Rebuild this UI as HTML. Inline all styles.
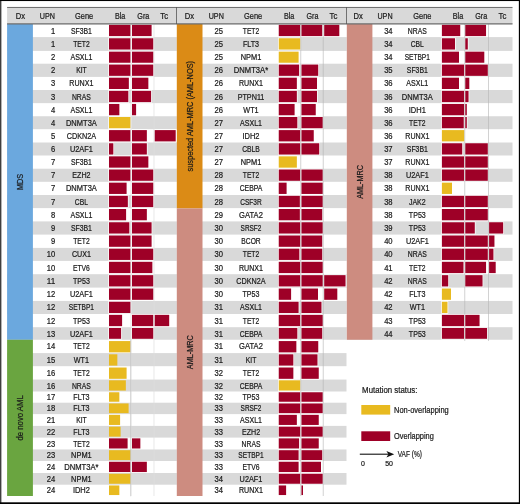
<!DOCTYPE html>
<html><head><meta charset="utf-8"><title>Mutation status figure</title>
<style>html,body{margin:0;padding:0;background:#fff}svg{display:block}</style></head>
<body><svg width="520" height="504" viewBox="0 0 520 504" font-family="'Liberation Sans', sans-serif" font-size="8.6">
<rect x="0" y="0" width="520" height="504" fill="#fff"/>
<rect x="7.10" y="7.50" width="505.40" height="16.60" fill="#d9d9d9"/>
<rect x="7.10" y="37.10" width="169.70" height="13.80" fill="#d9d9d9"/>
<rect x="7.10" y="63.70" width="169.70" height="13.20" fill="#d9d9d9"/>
<rect x="7.10" y="90.00" width="169.70" height="13.15" fill="#d9d9d9"/>
<rect x="7.10" y="116.25" width="169.70" height="12.95" fill="#d9d9d9"/>
<rect x="7.10" y="142.50" width="169.70" height="13.00" fill="#d9d9d9"/>
<rect x="7.10" y="168.70" width="169.70" height="13.10" fill="#d9d9d9"/>
<rect x="7.10" y="195.00" width="169.70" height="13.10" fill="#d9d9d9"/>
<rect x="7.10" y="221.40" width="169.70" height="13.20" fill="#d9d9d9"/>
<rect x="7.10" y="247.90" width="169.70" height="13.00" fill="#d9d9d9"/>
<rect x="7.10" y="274.20" width="169.70" height="13.40" fill="#d9d9d9"/>
<rect x="7.10" y="300.95" width="169.70" height="13.05" fill="#d9d9d9"/>
<rect x="7.10" y="327.20" width="169.70" height="12.55" fill="#d9d9d9"/>
<rect x="7.10" y="353.10" width="169.70" height="13.10" fill="#d9d9d9"/>
<rect x="7.10" y="379.55" width="169.70" height="11.95" fill="#d9d9d9"/>
<rect x="7.10" y="402.70" width="169.70" height="11.40" fill="#d9d9d9"/>
<rect x="7.10" y="425.90" width="169.70" height="11.70" fill="#d9d9d9"/>
<rect x="7.10" y="449.45" width="169.70" height="11.55" fill="#d9d9d9"/>
<rect x="7.10" y="473.00" width="169.70" height="11.70" fill="#d9d9d9"/>
<rect x="176.80" y="37.10" width="169.70" height="13.80" fill="#d9d9d9"/>
<rect x="176.80" y="63.70" width="169.70" height="13.20" fill="#d9d9d9"/>
<rect x="176.80" y="90.00" width="169.70" height="13.15" fill="#d9d9d9"/>
<rect x="176.80" y="116.25" width="169.70" height="12.95" fill="#d9d9d9"/>
<rect x="176.80" y="142.50" width="169.70" height="13.00" fill="#d9d9d9"/>
<rect x="176.80" y="168.70" width="169.70" height="13.10" fill="#d9d9d9"/>
<rect x="176.80" y="195.00" width="169.70" height="13.10" fill="#d9d9d9"/>
<rect x="176.80" y="221.40" width="169.70" height="13.20" fill="#d9d9d9"/>
<rect x="176.80" y="247.90" width="169.70" height="13.00" fill="#d9d9d9"/>
<rect x="176.80" y="274.20" width="169.70" height="13.40" fill="#d9d9d9"/>
<rect x="176.80" y="300.95" width="169.70" height="13.05" fill="#d9d9d9"/>
<rect x="176.80" y="327.20" width="169.70" height="12.55" fill="#d9d9d9"/>
<rect x="176.80" y="353.10" width="169.70" height="13.10" fill="#d9d9d9"/>
<rect x="176.80" y="379.55" width="169.70" height="11.95" fill="#d9d9d9"/>
<rect x="176.80" y="402.70" width="169.70" height="11.40" fill="#d9d9d9"/>
<rect x="176.80" y="425.90" width="169.70" height="11.70" fill="#d9d9d9"/>
<rect x="176.80" y="449.45" width="169.70" height="11.55" fill="#d9d9d9"/>
<rect x="176.80" y="473.00" width="169.70" height="11.70" fill="#d9d9d9"/>
<rect x="346.50" y="37.10" width="166.00" height="13.80" fill="#d9d9d9"/>
<rect x="346.50" y="63.70" width="166.00" height="13.20" fill="#d9d9d9"/>
<rect x="346.50" y="90.00" width="166.00" height="13.15" fill="#d9d9d9"/>
<rect x="346.50" y="116.25" width="166.00" height="12.95" fill="#d9d9d9"/>
<rect x="346.50" y="142.50" width="166.00" height="13.00" fill="#d9d9d9"/>
<rect x="346.50" y="168.70" width="166.00" height="13.10" fill="#d9d9d9"/>
<rect x="346.50" y="195.00" width="166.00" height="13.10" fill="#d9d9d9"/>
<rect x="346.50" y="221.40" width="166.00" height="13.20" fill="#d9d9d9"/>
<rect x="346.50" y="247.90" width="166.00" height="13.00" fill="#d9d9d9"/>
<rect x="346.50" y="274.20" width="166.00" height="13.40" fill="#d9d9d9"/>
<rect x="346.50" y="300.95" width="166.00" height="13.05" fill="#d9d9d9"/>
<rect x="346.50" y="327.20" width="166.00" height="12.55" fill="#d9d9d9"/>
<rect x="7.10" y="24.00" width="25.80" height="315.75" fill="#6ba8de"/>
<rect x="7.10" y="339.75" width="25.80" height="156.25" fill="#6aa540"/>
<rect x="176.80" y="24.00" width="25.70" height="184.45" fill="#db8b16"/>
<rect x="176.80" y="208.45" width="25.70" height="287.55" fill="#cd8c80"/>
<rect x="346.80" y="24.00" width="25.60" height="315.75" fill="#cd8c80"/>
<rect x="109.00" y="24.80" width="21.60" height="11.30" fill="#9e0027" stroke="#fff" stroke-width="1.4" paint-order="stroke"/>
<rect x="132.00" y="24.80" width="19.60" height="11.30" fill="#9e0027" stroke="#fff" stroke-width="1.4" paint-order="stroke"/>
<rect x="109.00" y="38.25" width="21.60" height="11.30" fill="#9e0027" stroke="#fff" stroke-width="1.4" paint-order="stroke"/>
<rect x="132.00" y="38.25" width="21.35" height="11.30" fill="#9e0027" stroke="#fff" stroke-width="1.4" paint-order="stroke"/>
<rect x="109.00" y="51.65" width="21.60" height="11.10" fill="#9e0027" stroke="#fff" stroke-width="1.4" paint-order="stroke"/>
<rect x="132.00" y="51.65" width="21.35" height="11.10" fill="#9e0027" stroke="#fff" stroke-width="1.4" paint-order="stroke"/>
<rect x="109.00" y="64.55" width="21.60" height="11.30" fill="#9e0027" stroke="#fff" stroke-width="1.4" paint-order="stroke"/>
<rect x="132.00" y="64.55" width="21.35" height="11.30" fill="#9e0027" stroke="#fff" stroke-width="1.4" paint-order="stroke"/>
<rect x="109.00" y="77.70" width="19.85" height="11.30" fill="#9e0027" stroke="#fff" stroke-width="1.4" paint-order="stroke"/>
<rect x="132.00" y="77.70" width="16.35" height="11.30" fill="#9e0027" stroke="#fff" stroke-width="1.4" paint-order="stroke"/>
<rect x="109.00" y="90.83" width="19.35" height="11.30" fill="#9e0027" stroke="#fff" stroke-width="1.4" paint-order="stroke"/>
<rect x="132.00" y="90.83" width="19.10" height="11.30" fill="#9e0027" stroke="#fff" stroke-width="1.4" paint-order="stroke"/>
<rect x="109.00" y="103.95" width="10.35" height="11.30" fill="#9e0027" stroke="#fff" stroke-width="1.4" paint-order="stroke"/>
<rect x="132.00" y="103.95" width="4.10" height="11.30" fill="#9e0027" stroke="#fff" stroke-width="1.4" paint-order="stroke"/>
<rect x="109.00" y="117.00" width="21.60" height="11.25" fill="#e8ba20" stroke="#fff" stroke-width="1.4" paint-order="stroke"/>
<rect x="109.00" y="130.10" width="21.60" height="11.30" fill="#9e0027" stroke="#fff" stroke-width="1.4" paint-order="stroke"/>
<rect x="132.00" y="130.10" width="14.85" height="11.30" fill="#9e0027" stroke="#fff" stroke-width="1.4" paint-order="stroke"/>
<rect x="154.60" y="130.10" width="21.10" height="11.30" fill="#9e0027" stroke="#fff" stroke-width="1.4" paint-order="stroke"/>
<rect x="109.00" y="143.25" width="4.35" height="11.30" fill="#9e0027" stroke="#fff" stroke-width="1.4" paint-order="stroke"/>
<rect x="132.00" y="143.25" width="14.85" height="11.30" fill="#9e0027" stroke="#fff" stroke-width="1.4" paint-order="stroke"/>
<rect x="109.00" y="156.35" width="21.60" height="11.30" fill="#9e0027" stroke="#fff" stroke-width="1.4" paint-order="stroke"/>
<rect x="132.00" y="156.35" width="16.35" height="11.30" fill="#9e0027" stroke="#fff" stroke-width="1.4" paint-order="stroke"/>
<rect x="109.00" y="169.50" width="21.60" height="11.30" fill="#9e0027" stroke="#fff" stroke-width="1.4" paint-order="stroke"/>
<rect x="132.00" y="169.50" width="21.35" height="11.30" fill="#9e0027" stroke="#fff" stroke-width="1.4" paint-order="stroke"/>
<rect x="109.00" y="182.65" width="17.60" height="11.30" fill="#9e0027" stroke="#fff" stroke-width="1.4" paint-order="stroke"/>
<rect x="132.00" y="182.65" width="21.35" height="11.30" fill="#9e0027" stroke="#fff" stroke-width="1.4" paint-order="stroke"/>
<rect x="109.00" y="195.80" width="18.85" height="11.30" fill="#9e0027" stroke="#fff" stroke-width="1.4" paint-order="stroke"/>
<rect x="132.00" y="195.80" width="21.35" height="11.30" fill="#9e0027" stroke="#fff" stroke-width="1.4" paint-order="stroke"/>
<rect x="109.00" y="209.00" width="17.10" height="11.30" fill="#9e0027" stroke="#fff" stroke-width="1.4" paint-order="stroke"/>
<rect x="132.00" y="209.00" width="14.85" height="11.30" fill="#9e0027" stroke="#fff" stroke-width="1.4" paint-order="stroke"/>
<rect x="109.00" y="222.25" width="20.35" height="11.30" fill="#9e0027" stroke="#fff" stroke-width="1.4" paint-order="stroke"/>
<rect x="132.00" y="222.25" width="19.60" height="11.30" fill="#9e0027" stroke="#fff" stroke-width="1.4" paint-order="stroke"/>
<rect x="109.00" y="235.50" width="21.60" height="11.30" fill="#9e0027" stroke="#fff" stroke-width="1.4" paint-order="stroke"/>
<rect x="132.00" y="235.50" width="19.60" height="11.30" fill="#9e0027" stroke="#fff" stroke-width="1.4" paint-order="stroke"/>
<rect x="109.00" y="248.65" width="21.60" height="11.30" fill="#9e0027" stroke="#fff" stroke-width="1.4" paint-order="stroke"/>
<rect x="132.00" y="248.65" width="21.35" height="11.30" fill="#9e0027" stroke="#fff" stroke-width="1.4" paint-order="stroke"/>
<rect x="109.00" y="261.80" width="21.60" height="11.30" fill="#9e0027" stroke="#fff" stroke-width="1.4" paint-order="stroke"/>
<rect x="132.00" y="261.80" width="20.35" height="11.30" fill="#9e0027" stroke="#fff" stroke-width="1.4" paint-order="stroke"/>
<rect x="109.00" y="275.15" width="21.60" height="11.30" fill="#9e0027" stroke="#fff" stroke-width="1.4" paint-order="stroke"/>
<rect x="132.00" y="275.15" width="21.35" height="11.30" fill="#9e0027" stroke="#fff" stroke-width="1.4" paint-order="stroke"/>
<rect x="109.00" y="288.52" width="21.60" height="11.30" fill="#9e0027" stroke="#fff" stroke-width="1.4" paint-order="stroke"/>
<rect x="132.00" y="288.52" width="21.35" height="11.30" fill="#9e0027" stroke="#fff" stroke-width="1.4" paint-order="stroke"/>
<rect x="109.00" y="301.72" width="21.60" height="11.30" fill="#9e0027" stroke="#fff" stroke-width="1.4" paint-order="stroke"/>
<rect x="109.00" y="314.85" width="13.10" height="11.30" fill="#9e0027" stroke="#fff" stroke-width="1.4" paint-order="stroke"/>
<rect x="132.00" y="314.85" width="21.35" height="11.30" fill="#9e0027" stroke="#fff" stroke-width="1.4" paint-order="stroke"/>
<rect x="154.60" y="314.85" width="14.60" height="11.30" fill="#9e0027" stroke="#fff" stroke-width="1.4" paint-order="stroke"/>
<rect x="109.00" y="327.95" width="12.10" height="10.85" fill="#9e0027" stroke="#fff" stroke-width="1.4" paint-order="stroke"/>
<rect x="132.00" y="327.95" width="21.35" height="10.85" fill="#9e0027" stroke="#fff" stroke-width="1.4" paint-order="stroke"/>
<rect x="109.00" y="341.07" width="21.65" height="11.30" fill="#e8ba20"/>
<rect x="109.00" y="354.30" width="8.35" height="11.30" fill="#e8ba20"/>
<rect x="109.00" y="367.52" width="17.60" height="11.30" fill="#e8ba20"/>
<rect x="109.00" y="380.30" width="16.85" height="10.25" fill="#e8ba20"/>
<rect x="109.00" y="392.25" width="10.35" height="9.50" fill="#e8ba20"/>
<rect x="109.00" y="403.45" width="19.60" height="9.70" fill="#e8ba20"/>
<rect x="109.00" y="414.85" width="11.10" height="10.10" fill="#e8ba20"/>
<rect x="109.00" y="426.65" width="11.60" height="10.00" fill="#e8ba20"/>
<rect x="109.00" y="438.35" width="18.60" height="10.15" fill="#9e0027"/>
<rect x="132.00" y="438.35" width="8.35" height="10.15" fill="#9e0027"/>
<rect x="109.00" y="450.20" width="21.85" height="9.85" fill="#e8ba20"/>
<rect x="109.00" y="461.75" width="21.60" height="10.30" fill="#9e0027"/>
<rect x="132.00" y="461.75" width="14.85" height="10.30" fill="#9e0027"/>
<rect x="109.00" y="473.75" width="21.85" height="10.00" fill="#e8ba20"/>
<rect x="109.00" y="485.45" width="10.35" height="9.60" fill="#e8ba20"/>
<rect x="278.75" y="24.80" width="21.60" height="11.30" fill="#9e0027" stroke="#fff" stroke-width="1.4" paint-order="stroke"/>
<rect x="301.40" y="24.80" width="20.85" height="11.30" fill="#9e0027" stroke="#fff" stroke-width="1.4" paint-order="stroke"/>
<rect x="324.20" y="24.80" width="15.10" height="11.30" fill="#9e0027" stroke="#fff" stroke-width="1.4" paint-order="stroke"/>
<rect x="278.75" y="38.25" width="21.60" height="11.30" fill="#e8ba20" stroke="#fff" stroke-width="1.4" paint-order="stroke"/>
<rect x="278.75" y="51.65" width="19.85" height="11.10" fill="#e8ba20" stroke="#fff" stroke-width="1.4" paint-order="stroke"/>
<rect x="278.75" y="64.55" width="20.35" height="11.30" fill="#9e0027" stroke="#fff" stroke-width="1.4" paint-order="stroke"/>
<rect x="301.40" y="64.55" width="16.85" height="11.30" fill="#9e0027" stroke="#fff" stroke-width="1.4" paint-order="stroke"/>
<rect x="278.75" y="77.70" width="18.10" height="11.30" fill="#9e0027" stroke="#fff" stroke-width="1.4" paint-order="stroke"/>
<rect x="301.40" y="77.70" width="15.60" height="11.30" fill="#9e0027" stroke="#fff" stroke-width="1.4" paint-order="stroke"/>
<rect x="278.75" y="90.83" width="18.10" height="11.30" fill="#9e0027" stroke="#fff" stroke-width="1.4" paint-order="stroke"/>
<rect x="301.40" y="90.83" width="15.60" height="11.30" fill="#9e0027" stroke="#fff" stroke-width="1.4" paint-order="stroke"/>
<rect x="278.75" y="103.95" width="15.85" height="11.30" fill="#9e0027" stroke="#fff" stroke-width="1.4" paint-order="stroke"/>
<rect x="301.40" y="103.95" width="14.35" height="11.30" fill="#9e0027" stroke="#fff" stroke-width="1.4" paint-order="stroke"/>
<rect x="278.75" y="117.00" width="18.60" height="11.25" fill="#9e0027" stroke="#fff" stroke-width="1.4" paint-order="stroke"/>
<rect x="301.40" y="117.00" width="21.35" height="11.25" fill="#9e0027" stroke="#fff" stroke-width="1.4" paint-order="stroke"/>
<rect x="278.75" y="130.10" width="21.60" height="11.30" fill="#9e0027" stroke="#fff" stroke-width="1.4" paint-order="stroke"/>
<rect x="301.40" y="130.10" width="12.35" height="11.30" fill="#9e0027" stroke="#fff" stroke-width="1.4" paint-order="stroke"/>
<rect x="278.75" y="143.25" width="21.60" height="11.30" fill="#9e0027" stroke="#fff" stroke-width="1.4" paint-order="stroke"/>
<rect x="301.40" y="143.25" width="17.85" height="11.30" fill="#9e0027" stroke="#fff" stroke-width="1.4" paint-order="stroke"/>
<rect x="278.75" y="156.35" width="18.10" height="11.30" fill="#e8ba20" stroke="#fff" stroke-width="1.4" paint-order="stroke"/>
<rect x="278.75" y="169.50" width="21.60" height="11.30" fill="#9e0027" stroke="#fff" stroke-width="1.4" paint-order="stroke"/>
<rect x="301.40" y="169.50" width="21.35" height="11.30" fill="#9e0027" stroke="#fff" stroke-width="1.4" paint-order="stroke"/>
<rect x="278.75" y="182.65" width="7.85" height="11.30" fill="#9e0027" stroke="#fff" stroke-width="1.4" paint-order="stroke"/>
<rect x="301.40" y="182.65" width="21.35" height="11.30" fill="#9e0027" stroke="#fff" stroke-width="1.4" paint-order="stroke"/>
<rect x="278.75" y="195.80" width="21.10" height="11.30" fill="#9e0027" stroke="#fff" stroke-width="1.4" paint-order="stroke"/>
<rect x="301.40" y="195.80" width="21.35" height="11.30" fill="#9e0027" stroke="#fff" stroke-width="1.4" paint-order="stroke"/>
<rect x="278.75" y="209.00" width="21.10" height="11.30" fill="#9e0027" stroke="#fff" stroke-width="1.4" paint-order="stroke"/>
<rect x="301.40" y="209.00" width="20.85" height="11.30" fill="#9e0027" stroke="#fff" stroke-width="1.4" paint-order="stroke"/>
<rect x="278.75" y="222.25" width="21.60" height="11.30" fill="#9e0027" stroke="#fff" stroke-width="1.4" paint-order="stroke"/>
<rect x="301.40" y="222.25" width="21.35" height="11.30" fill="#9e0027" stroke="#fff" stroke-width="1.4" paint-order="stroke"/>
<rect x="278.75" y="235.50" width="21.60" height="11.30" fill="#9e0027" stroke="#fff" stroke-width="1.4" paint-order="stroke"/>
<rect x="301.40" y="235.50" width="20.85" height="11.30" fill="#9e0027" stroke="#fff" stroke-width="1.4" paint-order="stroke"/>
<rect x="278.75" y="248.65" width="20.60" height="11.30" fill="#9e0027" stroke="#fff" stroke-width="1.4" paint-order="stroke"/>
<rect x="301.40" y="248.65" width="20.85" height="11.30" fill="#9e0027" stroke="#fff" stroke-width="1.4" paint-order="stroke"/>
<rect x="278.75" y="261.80" width="21.60" height="11.30" fill="#9e0027" stroke="#fff" stroke-width="1.4" paint-order="stroke"/>
<rect x="301.40" y="261.80" width="21.35" height="11.30" fill="#9e0027" stroke="#fff" stroke-width="1.4" paint-order="stroke"/>
<rect x="278.75" y="275.15" width="21.60" height="11.30" fill="#9e0027" stroke="#fff" stroke-width="1.4" paint-order="stroke"/>
<rect x="301.40" y="275.15" width="21.35" height="11.30" fill="#9e0027" stroke="#fff" stroke-width="1.4" paint-order="stroke"/>
<rect x="324.20" y="275.15" width="21.35" height="11.30" fill="#9e0027" stroke="#fff" stroke-width="1.4" paint-order="stroke"/>
<rect x="278.75" y="288.52" width="12.35" height="11.30" fill="#9e0027" stroke="#fff" stroke-width="1.4" paint-order="stroke"/>
<rect x="301.40" y="288.52" width="16.60" height="11.30" fill="#9e0027" stroke="#fff" stroke-width="1.4" paint-order="stroke"/>
<rect x="324.20" y="288.52" width="13.10" height="11.30" fill="#9e0027" stroke="#fff" stroke-width="1.4" paint-order="stroke"/>
<rect x="278.75" y="301.72" width="19.85" height="11.30" fill="#9e0027" stroke="#fff" stroke-width="1.4" paint-order="stroke"/>
<rect x="301.40" y="301.72" width="20.10" height="11.30" fill="#9e0027" stroke="#fff" stroke-width="1.4" paint-order="stroke"/>
<rect x="278.75" y="314.85" width="21.60" height="11.30" fill="#9e0027" stroke="#fff" stroke-width="1.4" paint-order="stroke"/>
<rect x="301.40" y="314.85" width="21.35" height="11.30" fill="#9e0027" stroke="#fff" stroke-width="1.4" paint-order="stroke"/>
<rect x="278.75" y="327.95" width="18.60" height="10.85" fill="#9e0027" stroke="#fff" stroke-width="1.4" paint-order="stroke"/>
<rect x="301.40" y="327.95" width="20.85" height="10.85" fill="#9e0027" stroke="#fff" stroke-width="1.4" paint-order="stroke"/>
<rect x="278.75" y="341.07" width="17.60" height="11.30" fill="#9e0027" stroke="#fff" stroke-width="1.4" paint-order="stroke"/>
<rect x="301.40" y="341.07" width="16.85" height="11.30" fill="#9e0027" stroke="#fff" stroke-width="1.4" paint-order="stroke"/>
<rect x="278.75" y="354.30" width="14.60" height="11.30" fill="#9e0027" stroke="#fff" stroke-width="1.4" paint-order="stroke"/>
<rect x="301.40" y="354.30" width="16.10" height="11.30" fill="#9e0027" stroke="#fff" stroke-width="1.4" paint-order="stroke"/>
<rect x="278.75" y="367.52" width="14.60" height="11.30" fill="#9e0027" stroke="#fff" stroke-width="1.4" paint-order="stroke"/>
<rect x="301.40" y="367.52" width="17.35" height="11.30" fill="#9e0027" stroke="#fff" stroke-width="1.4" paint-order="stroke"/>
<rect x="278.75" y="380.30" width="21.60" height="10.25" fill="#e8ba20" stroke="#fff" stroke-width="1.4" paint-order="stroke"/>
<rect x="278.75" y="392.25" width="21.60" height="9.50" fill="#9e0027" stroke="#fff" stroke-width="1.4" paint-order="stroke"/>
<rect x="301.40" y="392.25" width="21.35" height="9.50" fill="#9e0027" stroke="#fff" stroke-width="1.4" paint-order="stroke"/>
<rect x="278.75" y="403.45" width="21.60" height="9.70" fill="#9e0027" stroke="#fff" stroke-width="1.4" paint-order="stroke"/>
<rect x="301.40" y="403.45" width="21.35" height="9.70" fill="#9e0027" stroke="#fff" stroke-width="1.4" paint-order="stroke"/>
<rect x="278.75" y="414.85" width="18.10" height="10.10" fill="#9e0027" stroke="#fff" stroke-width="1.4" paint-order="stroke"/>
<rect x="301.40" y="414.85" width="17.35" height="10.10" fill="#9e0027" stroke="#fff" stroke-width="1.4" paint-order="stroke"/>
<rect x="278.75" y="426.65" width="21.60" height="10.00" fill="#9e0027" stroke="#fff" stroke-width="1.4" paint-order="stroke"/>
<rect x="301.40" y="426.65" width="21.35" height="10.00" fill="#9e0027" stroke="#fff" stroke-width="1.4" paint-order="stroke"/>
<rect x="278.75" y="438.35" width="20.35" height="10.15" fill="#9e0027" stroke="#fff" stroke-width="1.4" paint-order="stroke"/>
<rect x="301.40" y="438.35" width="17.35" height="10.15" fill="#9e0027" stroke="#fff" stroke-width="1.4" paint-order="stroke"/>
<rect x="278.75" y="450.20" width="19.85" height="9.85" fill="#9e0027" stroke="#fff" stroke-width="1.4" paint-order="stroke"/>
<rect x="301.40" y="450.20" width="20.85" height="9.85" fill="#9e0027" stroke="#fff" stroke-width="1.4" paint-order="stroke"/>
<rect x="278.75" y="461.75" width="19.85" height="10.30" fill="#9e0027" stroke="#fff" stroke-width="1.4" paint-order="stroke"/>
<rect x="301.40" y="461.75" width="19.60" height="10.30" fill="#9e0027" stroke="#fff" stroke-width="1.4" paint-order="stroke"/>
<rect x="278.75" y="473.75" width="21.60" height="10.00" fill="#9e0027" stroke="#fff" stroke-width="1.4" paint-order="stroke"/>
<rect x="301.40" y="473.75" width="21.35" height="10.00" fill="#9e0027" stroke="#fff" stroke-width="1.4" paint-order="stroke"/>
<rect x="278.75" y="485.45" width="7.35" height="9.60" fill="#9e0027" stroke="#fff" stroke-width="1.4" paint-order="stroke"/>
<rect x="301.40" y="485.45" width="1.60" height="9.60" fill="#9e0027" stroke="#fff" stroke-width="1.4" paint-order="stroke"/>
<rect x="441.90" y="24.80" width="18.35" height="11.30" fill="#9e0027" stroke="#fff" stroke-width="1.4" paint-order="stroke"/>
<rect x="465.20" y="24.80" width="20.85" height="11.30" fill="#9e0027" stroke="#fff" stroke-width="1.4" paint-order="stroke"/>
<rect x="441.90" y="38.25" width="13.10" height="11.30" fill="#9e0027" stroke="#fff" stroke-width="1.4" paint-order="stroke"/>
<rect x="465.20" y="38.25" width="2.60" height="11.30" fill="#9e0027" stroke="#fff" stroke-width="1.4" paint-order="stroke"/>
<rect x="441.90" y="51.65" width="17.10" height="11.10" fill="#9e0027" stroke="#fff" stroke-width="1.4" paint-order="stroke"/>
<rect x="465.20" y="51.65" width="19.10" height="11.10" fill="#9e0027" stroke="#fff" stroke-width="1.4" paint-order="stroke"/>
<rect x="441.90" y="64.55" width="22.35" height="11.30" fill="#9e0027" stroke="#fff" stroke-width="1.4" paint-order="stroke"/>
<rect x="465.20" y="64.55" width="22.60" height="11.30" fill="#9e0027" stroke="#fff" stroke-width="1.4" paint-order="stroke"/>
<rect x="441.90" y="77.70" width="17.10" height="11.30" fill="#9e0027" stroke="#fff" stroke-width="1.4" paint-order="stroke"/>
<rect x="465.20" y="77.70" width="4.10" height="11.30" fill="#9e0027" stroke="#fff" stroke-width="1.4" paint-order="stroke"/>
<rect x="441.90" y="90.83" width="22.35" height="11.30" fill="#9e0027" stroke="#fff" stroke-width="1.4" paint-order="stroke"/>
<rect x="465.20" y="90.83" width="3.35" height="11.30" fill="#9e0027" stroke="#fff" stroke-width="1.4" paint-order="stroke"/>
<rect x="441.90" y="103.95" width="22.35" height="11.30" fill="#9e0027" stroke="#fff" stroke-width="1.4" paint-order="stroke"/>
<rect x="465.20" y="103.95" width="1.60" height="11.30" fill="#9e0027" stroke="#fff" stroke-width="1.4" paint-order="stroke"/>
<rect x="441.90" y="117.00" width="21.85" height="11.25" fill="#9e0027" stroke="#fff" stroke-width="1.4" paint-order="stroke"/>
<rect x="465.20" y="117.00" width="1.60" height="11.25" fill="#9e0027" stroke="#fff" stroke-width="1.4" paint-order="stroke"/>
<rect x="441.90" y="130.10" width="22.35" height="11.30" fill="#e8ba20" stroke="#fff" stroke-width="1.4" paint-order="stroke"/>
<rect x="441.90" y="143.25" width="20.35" height="11.30" fill="#9e0027" stroke="#fff" stroke-width="1.4" paint-order="stroke"/>
<rect x="465.20" y="143.25" width="22.60" height="11.30" fill="#9e0027" stroke="#fff" stroke-width="1.4" paint-order="stroke"/>
<rect x="441.90" y="156.35" width="22.35" height="11.30" fill="#9e0027" stroke="#fff" stroke-width="1.4" paint-order="stroke"/>
<rect x="465.20" y="156.35" width="22.60" height="11.30" fill="#9e0027" stroke="#fff" stroke-width="1.4" paint-order="stroke"/>
<rect x="441.90" y="169.50" width="22.35" height="11.30" fill="#9e0027" stroke="#fff" stroke-width="1.4" paint-order="stroke"/>
<rect x="465.20" y="169.50" width="22.60" height="11.30" fill="#9e0027" stroke="#fff" stroke-width="1.4" paint-order="stroke"/>
<rect x="441.90" y="182.65" width="10.10" height="11.30" fill="#e8ba20" stroke="#fff" stroke-width="1.4" paint-order="stroke"/>
<rect x="441.90" y="195.80" width="22.35" height="11.30" fill="#9e0027" stroke="#fff" stroke-width="1.4" paint-order="stroke"/>
<rect x="465.20" y="195.80" width="22.60" height="11.30" fill="#9e0027" stroke="#fff" stroke-width="1.4" paint-order="stroke"/>
<rect x="441.90" y="209.00" width="22.35" height="11.30" fill="#9e0027" stroke="#fff" stroke-width="1.4" paint-order="stroke"/>
<rect x="465.20" y="209.00" width="22.60" height="11.30" fill="#9e0027" stroke="#fff" stroke-width="1.4" paint-order="stroke"/>
<rect x="441.90" y="222.25" width="22.35" height="11.30" fill="#9e0027" stroke="#fff" stroke-width="1.4" paint-order="stroke"/>
<rect x="465.20" y="222.25" width="9.60" height="11.30" fill="#9e0027" stroke="#fff" stroke-width="1.4" paint-order="stroke"/>
<rect x="489.10" y="222.25" width="14.10" height="11.30" fill="#9e0027" stroke="#fff" stroke-width="1.4" paint-order="stroke"/>
<rect x="441.90" y="235.50" width="22.35" height="11.30" fill="#9e0027" stroke="#fff" stroke-width="1.4" paint-order="stroke"/>
<rect x="465.20" y="235.50" width="22.60" height="11.30" fill="#9e0027" stroke="#fff" stroke-width="1.4" paint-order="stroke"/>
<rect x="489.10" y="235.50" width="5.35" height="11.30" fill="#9e0027" stroke="#fff" stroke-width="1.4" paint-order="stroke"/>
<rect x="441.90" y="248.65" width="22.35" height="11.30" fill="#9e0027" stroke="#fff" stroke-width="1.4" paint-order="stroke"/>
<rect x="465.20" y="248.65" width="22.60" height="11.30" fill="#9e0027" stroke="#fff" stroke-width="1.4" paint-order="stroke"/>
<rect x="489.10" y="248.65" width="4.35" height="11.30" fill="#9e0027" stroke="#fff" stroke-width="1.4" paint-order="stroke"/>
<rect x="441.90" y="261.80" width="21.60" height="11.30" fill="#9e0027" stroke="#fff" stroke-width="1.4" paint-order="stroke"/>
<rect x="465.20" y="261.80" width="20.85" height="11.30" fill="#9e0027" stroke="#fff" stroke-width="1.4" paint-order="stroke"/>
<rect x="489.10" y="261.80" width="6.60" height="11.30" fill="#9e0027" stroke="#fff" stroke-width="1.4" paint-order="stroke"/>
<rect x="441.90" y="275.15" width="6.35" height="11.30" fill="#9e0027" stroke="#fff" stroke-width="1.4" paint-order="stroke"/>
<rect x="465.20" y="275.15" width="17.35" height="11.30" fill="#9e0027" stroke="#fff" stroke-width="1.4" paint-order="stroke"/>
<rect x="441.90" y="288.52" width="9.10" height="11.30" fill="#e8ba20" stroke="#fff" stroke-width="1.4" paint-order="stroke"/>
<rect x="441.90" y="301.72" width="5.60" height="11.30" fill="#e8ba20" stroke="#fff" stroke-width="1.4" paint-order="stroke"/>
<rect x="441.90" y="314.85" width="22.35" height="11.30" fill="#9e0027" stroke="#fff" stroke-width="1.4" paint-order="stroke"/>
<rect x="465.20" y="314.85" width="14.35" height="11.30" fill="#9e0027" stroke="#fff" stroke-width="1.4" paint-order="stroke"/>
<rect x="441.90" y="327.95" width="22.35" height="10.85" fill="#9e0027" stroke="#fff" stroke-width="1.4" paint-order="stroke"/>
<rect x="465.20" y="327.95" width="21.85" height="10.85" fill="#9e0027" stroke="#fff" stroke-width="1.4" paint-order="stroke"/>
<line x1="131.0" y1="24.1" x2="131.0" y2="496.00" stroke="#dedede" stroke-width="0.7"/>
<line x1="154.0" y1="24.1" x2="154.0" y2="496.00" stroke="#dedede" stroke-width="0.7"/>
<line x1="300.75" y1="24.1" x2="300.75" y2="496.00" stroke="#b4b4b4" stroke-width="0.6"/>
<line x1="323.25" y1="24.1" x2="323.25" y2="496.00" stroke="#b4b4b4" stroke-width="0.6"/>
<line x1="464.75" y1="24.1" x2="464.75" y2="340.95" stroke="#b4b4b4" stroke-width="0.6"/>
<line x1="488.5" y1="24.1" x2="488.5" y2="340.95" stroke="#b4b4b4" stroke-width="0.6"/>
<line x1="130.7" y1="339.7" x2="130.7" y2="496.3" stroke="#bdbdbd" stroke-width="0.6"/>
<line x1="7.1" y1="7.45" x2="512.5" y2="7.45" stroke="#6a6a6a" stroke-width="1.0"/>
<line x1="7.1" y1="23.9" x2="512.5" y2="23.9" stroke="#6c6c6c" stroke-width="1.4"/>
<line x1="176.5" y1="7" x2="176.5" y2="24.1" stroke="#555" stroke-width="0.8"/>
<line x1="346.5" y1="7" x2="346.5" y2="24.1" stroke="#555" stroke-width="0.8"/>
<text transform="translate(20.40,18.90) scale(0.886,1)" text-anchor="middle" fill="#1a1a1a" stroke="#1a1a1a" stroke-width="0.22">Dx</text>
<text transform="translate(47.30,18.90) scale(0.835,1)" text-anchor="middle" fill="#1a1a1a" stroke="#1a1a1a" stroke-width="0.22">UPN</text>
<text transform="translate(84.10,18.90) scale(0.864,1)" text-anchor="middle" fill="#1a1a1a" stroke="#1a1a1a" stroke-width="0.22">Gene</text>
<text transform="translate(120.10,18.90) scale(0.836,1)" text-anchor="middle" fill="#1a1a1a" stroke="#1a1a1a" stroke-width="0.22">Bla</text>
<text transform="translate(143.30,18.90) scale(0.837,1)" text-anchor="middle" fill="#1a1a1a" stroke="#1a1a1a" stroke-width="0.22">Gra</text>
<text transform="translate(164.20,18.90) scale(0.907,1)" text-anchor="middle" fill="#1a1a1a" stroke="#1a1a1a" stroke-width="0.22">Tc</text>
<text transform="translate(189.40,18.90) scale(0.886,1)" text-anchor="middle" fill="#1a1a1a" stroke="#1a1a1a" stroke-width="0.22">Dx</text>
<text transform="translate(216.25,18.90) scale(0.835,1)" text-anchor="middle" fill="#1a1a1a" stroke="#1a1a1a" stroke-width="0.22">UPN</text>
<text transform="translate(253.10,18.90) scale(0.864,1)" text-anchor="middle" fill="#1a1a1a" stroke="#1a1a1a" stroke-width="0.22">Gene</text>
<text transform="translate(289.10,18.90) scale(0.836,1)" text-anchor="middle" fill="#1a1a1a" stroke="#1a1a1a" stroke-width="0.22">Bla</text>
<text transform="translate(312.50,18.90) scale(0.837,1)" text-anchor="middle" fill="#1a1a1a" stroke="#1a1a1a" stroke-width="0.22">Gra</text>
<text transform="translate(333.50,18.90) scale(0.907,1)" text-anchor="middle" fill="#1a1a1a" stroke="#1a1a1a" stroke-width="0.22">Tc</text>
<text transform="translate(358.10,18.90) scale(0.886,1)" text-anchor="middle" fill="#1a1a1a" stroke="#1a1a1a" stroke-width="0.22">Dx</text>
<text transform="translate(385.00,18.90) scale(0.835,1)" text-anchor="middle" fill="#1a1a1a" stroke="#1a1a1a" stroke-width="0.22">UPN</text>
<text transform="translate(422.30,18.90) scale(0.864,1)" text-anchor="middle" fill="#1a1a1a" stroke="#1a1a1a" stroke-width="0.22">Gene</text>
<text transform="translate(458.00,18.90) scale(0.836,1)" text-anchor="middle" fill="#1a1a1a" stroke="#1a1a1a" stroke-width="0.22">Bla</text>
<text transform="translate(481.25,18.90) scale(0.837,1)" text-anchor="middle" fill="#1a1a1a" stroke="#1a1a1a" stroke-width="0.22">Gra</text>
<text transform="translate(502.50,18.90) scale(0.907,1)" text-anchor="middle" fill="#1a1a1a" stroke="#1a1a1a" stroke-width="0.22">Tc</text>
<text transform="translate(55.30,33.55) scale(0.885,1)" text-anchor="end" fill="#1a1a1a" stroke="#1a1a1a" stroke-width="0.22">1</text>
<text transform="translate(81.40,33.55) scale(0.800,1)" text-anchor="middle" fill="#1a1a1a" stroke="#1a1a1a" stroke-width="0.22">SF3B1</text>
<text transform="translate(55.30,47.00) scale(0.885,1)" text-anchor="end" fill="#1a1a1a" stroke="#1a1a1a" stroke-width="0.22">1</text>
<text transform="translate(81.40,47.00) scale(0.784,1)" text-anchor="middle" fill="#1a1a1a" stroke="#1a1a1a" stroke-width="0.22">TET2</text>
<text transform="translate(55.30,60.30) scale(0.885,1)" text-anchor="end" fill="#1a1a1a" stroke="#1a1a1a" stroke-width="0.22">2</text>
<text transform="translate(81.40,60.30) scale(0.820,1)" text-anchor="middle" fill="#1a1a1a" stroke="#1a1a1a" stroke-width="0.22">ASXL1</text>
<text transform="translate(55.30,73.30) scale(0.885,1)" text-anchor="end" fill="#1a1a1a" stroke="#1a1a1a" stroke-width="0.22">2</text>
<text transform="translate(81.40,73.30) scale(0.788,1)" text-anchor="middle" fill="#1a1a1a" stroke="#1a1a1a" stroke-width="0.22">KIT</text>
<text transform="translate(55.30,86.45) scale(0.885,1)" text-anchor="end" fill="#1a1a1a" stroke="#1a1a1a" stroke-width="0.22">3</text>
<text transform="translate(81.40,86.45) scale(0.828,1)" text-anchor="middle" fill="#1a1a1a" stroke="#1a1a1a" stroke-width="0.22">RUNX1</text>
<text transform="translate(55.30,99.58) scale(0.885,1)" text-anchor="end" fill="#1a1a1a" stroke="#1a1a1a" stroke-width="0.22">3</text>
<text transform="translate(81.40,99.58) scale(0.794,1)" text-anchor="middle" fill="#1a1a1a" stroke="#1a1a1a" stroke-width="0.22">NRAS</text>
<text transform="translate(55.30,112.70) scale(0.885,1)" text-anchor="end" fill="#1a1a1a" stroke="#1a1a1a" stroke-width="0.22">4</text>
<text transform="translate(81.40,112.70) scale(0.820,1)" text-anchor="middle" fill="#1a1a1a" stroke="#1a1a1a" stroke-width="0.22">ASXL1</text>
<text transform="translate(55.30,125.72) scale(0.885,1)" text-anchor="end" fill="#1a1a1a" stroke="#1a1a1a" stroke-width="0.22">4</text>
<text transform="translate(81.40,125.72) scale(0.875,1)" text-anchor="middle" fill="#1a1a1a" stroke="#1a1a1a" stroke-width="0.22">DNMT3A</text>
<text transform="translate(55.30,138.85) scale(0.885,1)" text-anchor="end" fill="#1a1a1a" stroke="#1a1a1a" stroke-width="0.22">5</text>
<text transform="translate(81.40,138.85) scale(0.844,1)" text-anchor="middle" fill="#1a1a1a" stroke="#1a1a1a" stroke-width="0.22">CDKN2A</text>
<text transform="translate(55.30,152.00) scale(0.885,1)" text-anchor="end" fill="#1a1a1a" stroke="#1a1a1a" stroke-width="0.22">6</text>
<text transform="translate(81.40,152.00) scale(0.854,1)" text-anchor="middle" fill="#1a1a1a" stroke="#1a1a1a" stroke-width="0.22">U2AF1</text>
<text transform="translate(55.30,165.10) scale(0.885,1)" text-anchor="end" fill="#1a1a1a" stroke="#1a1a1a" stroke-width="0.22">7</text>
<text transform="translate(81.40,165.10) scale(0.800,1)" text-anchor="middle" fill="#1a1a1a" stroke="#1a1a1a" stroke-width="0.22">SF3B1</text>
<text transform="translate(55.30,178.25) scale(0.885,1)" text-anchor="end" fill="#1a1a1a" stroke="#1a1a1a" stroke-width="0.22">7</text>
<text transform="translate(81.40,178.25) scale(0.829,1)" text-anchor="middle" fill="#1a1a1a" stroke="#1a1a1a" stroke-width="0.22">EZH2</text>
<text transform="translate(55.30,191.40) scale(0.885,1)" text-anchor="end" fill="#1a1a1a" stroke="#1a1a1a" stroke-width="0.22">7</text>
<text transform="translate(81.40,191.40) scale(0.875,1)" text-anchor="middle" fill="#1a1a1a" stroke="#1a1a1a" stroke-width="0.22">DNMT3A</text>
<text transform="translate(55.30,204.55) scale(0.885,1)" text-anchor="end" fill="#1a1a1a" stroke="#1a1a1a" stroke-width="0.22">7</text>
<text transform="translate(81.40,204.55) scale(0.786,1)" text-anchor="middle" fill="#1a1a1a" stroke="#1a1a1a" stroke-width="0.22">CBL</text>
<text transform="translate(55.30,217.75) scale(0.885,1)" text-anchor="end" fill="#1a1a1a" stroke="#1a1a1a" stroke-width="0.22">8</text>
<text transform="translate(81.40,217.75) scale(0.820,1)" text-anchor="middle" fill="#1a1a1a" stroke="#1a1a1a" stroke-width="0.22">ASXL1</text>
<text transform="translate(55.30,231.00) scale(0.885,1)" text-anchor="end" fill="#1a1a1a" stroke="#1a1a1a" stroke-width="0.22">9</text>
<text transform="translate(81.40,231.00) scale(0.800,1)" text-anchor="middle" fill="#1a1a1a" stroke="#1a1a1a" stroke-width="0.22">SF3B1</text>
<text transform="translate(55.30,244.25) scale(0.885,1)" text-anchor="end" fill="#1a1a1a" stroke="#1a1a1a" stroke-width="0.22">9</text>
<text transform="translate(81.40,244.25) scale(0.784,1)" text-anchor="middle" fill="#1a1a1a" stroke="#1a1a1a" stroke-width="0.22">TET2</text>
<text transform="translate(55.30,257.40) scale(0.885,1)" text-anchor="end" fill="#1a1a1a" stroke="#1a1a1a" stroke-width="0.22">10</text>
<text transform="translate(81.40,257.40) scale(0.831,1)" text-anchor="middle" fill="#1a1a1a" stroke="#1a1a1a" stroke-width="0.22">CUX1</text>
<text transform="translate(55.30,270.55) scale(0.885,1)" text-anchor="end" fill="#1a1a1a" stroke="#1a1a1a" stroke-width="0.22">10</text>
<text transform="translate(81.40,270.55) scale(0.790,1)" text-anchor="middle" fill="#1a1a1a" stroke="#1a1a1a" stroke-width="0.22">ETV6</text>
<text transform="translate(55.30,283.90) scale(0.948,1)" text-anchor="end" fill="#1a1a1a" stroke="#1a1a1a" stroke-width="0.22">11</text>
<text transform="translate(81.40,283.90) scale(0.825,1)" text-anchor="middle" fill="#1a1a1a" stroke="#1a1a1a" stroke-width="0.22">TP53</text>
<text transform="translate(55.30,297.27) scale(0.885,1)" text-anchor="end" fill="#1a1a1a" stroke="#1a1a1a" stroke-width="0.22">12</text>
<text transform="translate(81.40,297.27) scale(0.854,1)" text-anchor="middle" fill="#1a1a1a" stroke="#1a1a1a" stroke-width="0.22">U2AF1</text>
<text transform="translate(55.30,310.48) scale(0.885,1)" text-anchor="end" fill="#1a1a1a" stroke="#1a1a1a" stroke-width="0.22">12</text>
<text transform="translate(81.40,310.48) scale(0.768,1)" text-anchor="middle" fill="#1a1a1a" stroke="#1a1a1a" stroke-width="0.22">SETBP1</text>
<text transform="translate(55.30,323.60) scale(0.885,1)" text-anchor="end" fill="#1a1a1a" stroke="#1a1a1a" stroke-width="0.22">12</text>
<text transform="translate(81.40,323.60) scale(0.825,1)" text-anchor="middle" fill="#1a1a1a" stroke="#1a1a1a" stroke-width="0.22">TP53</text>
<text transform="translate(55.30,337.08) scale(0.885,1)" text-anchor="end" fill="#1a1a1a" stroke="#1a1a1a" stroke-width="0.22">13</text>
<text transform="translate(81.40,337.08) scale(0.854,1)" text-anchor="middle" fill="#1a1a1a" stroke="#1a1a1a" stroke-width="0.22">U2AF1</text>
<text transform="translate(55.30,349.43) scale(0.885,1)" text-anchor="end" fill="#1a1a1a" stroke="#1a1a1a" stroke-width="0.22">14</text>
<text transform="translate(81.40,349.43) scale(0.784,1)" text-anchor="middle" fill="#1a1a1a" stroke="#1a1a1a" stroke-width="0.22">TET2</text>
<text transform="translate(55.30,362.65) scale(0.885,1)" text-anchor="end" fill="#1a1a1a" stroke="#1a1a1a" stroke-width="0.22">15</text>
<text transform="translate(81.40,362.65) scale(0.843,1)" text-anchor="middle" fill="#1a1a1a" stroke="#1a1a1a" stroke-width="0.22">WT1</text>
<text transform="translate(55.30,375.88) scale(0.885,1)" text-anchor="end" fill="#1a1a1a" stroke="#1a1a1a" stroke-width="0.22">16</text>
<text transform="translate(81.40,375.88) scale(0.784,1)" text-anchor="middle" fill="#1a1a1a" stroke="#1a1a1a" stroke-width="0.22">TET2</text>
<text transform="translate(55.30,388.52) scale(0.885,1)" text-anchor="end" fill="#1a1a1a" stroke="#1a1a1a" stroke-width="0.22">16</text>
<text transform="translate(81.40,388.52) scale(0.794,1)" text-anchor="middle" fill="#1a1a1a" stroke="#1a1a1a" stroke-width="0.22">NRAS</text>
<text transform="translate(55.30,400.10) scale(0.885,1)" text-anchor="end" fill="#1a1a1a" stroke="#1a1a1a" stroke-width="0.22">17</text>
<text transform="translate(81.40,400.10) scale(0.836,1)" text-anchor="middle" fill="#1a1a1a" stroke="#1a1a1a" stroke-width="0.22">FLT3</text>
<text transform="translate(55.30,411.40) scale(0.885,1)" text-anchor="end" fill="#1a1a1a" stroke="#1a1a1a" stroke-width="0.22">18</text>
<text transform="translate(81.40,411.40) scale(0.836,1)" text-anchor="middle" fill="#1a1a1a" stroke="#1a1a1a" stroke-width="0.22">FLT3</text>
<text transform="translate(55.30,423.00) scale(0.885,1)" text-anchor="end" fill="#1a1a1a" stroke="#1a1a1a" stroke-width="0.22">21</text>
<text transform="translate(81.40,423.00) scale(0.788,1)" text-anchor="middle" fill="#1a1a1a" stroke="#1a1a1a" stroke-width="0.22">KIT</text>
<text transform="translate(55.30,434.75) scale(0.885,1)" text-anchor="end" fill="#1a1a1a" stroke="#1a1a1a" stroke-width="0.22">22</text>
<text transform="translate(81.40,434.75) scale(0.836,1)" text-anchor="middle" fill="#1a1a1a" stroke="#1a1a1a" stroke-width="0.22">FLT3</text>
<text transform="translate(55.30,446.52) scale(0.885,1)" text-anchor="end" fill="#1a1a1a" stroke="#1a1a1a" stroke-width="0.22">23</text>
<text transform="translate(81.40,446.52) scale(0.784,1)" text-anchor="middle" fill="#1a1a1a" stroke="#1a1a1a" stroke-width="0.22">TET2</text>
<text transform="translate(55.30,458.23) scale(0.885,1)" text-anchor="end" fill="#1a1a1a" stroke="#1a1a1a" stroke-width="0.22">23</text>
<text transform="translate(81.40,458.23) scale(0.866,1)" text-anchor="middle" fill="#1a1a1a" stroke="#1a1a1a" stroke-width="0.22">NPM1</text>
<text transform="translate(55.30,470.00) scale(0.885,1)" text-anchor="end" fill="#1a1a1a" stroke="#1a1a1a" stroke-width="0.22">24</text>
<text transform="translate(81.40,470.00) scale(0.888,1)" text-anchor="middle" fill="#1a1a1a" stroke="#1a1a1a" stroke-width="0.22">DNMT3A*</text>
<text transform="translate(55.30,481.85) scale(0.885,1)" text-anchor="end" fill="#1a1a1a" stroke="#1a1a1a" stroke-width="0.22">24</text>
<text transform="translate(81.40,481.85) scale(0.866,1)" text-anchor="middle" fill="#1a1a1a" stroke="#1a1a1a" stroke-width="0.22">NPM1</text>
<text transform="translate(55.30,493.35) scale(0.885,1)" text-anchor="end" fill="#1a1a1a" stroke="#1a1a1a" stroke-width="0.22">24</text>
<text transform="translate(81.40,493.35) scale(0.872,1)" text-anchor="middle" fill="#1a1a1a" stroke="#1a1a1a" stroke-width="0.22">IDH2</text>
<text transform="translate(222.90,33.55) scale(0.885,1)" text-anchor="end" fill="#1a1a1a" stroke="#1a1a1a" stroke-width="0.22">25</text>
<text transform="translate(251.00,33.55) scale(0.784,1)" text-anchor="middle" fill="#1a1a1a" stroke="#1a1a1a" stroke-width="0.22">TET2</text>
<text transform="translate(222.90,47.00) scale(0.885,1)" text-anchor="end" fill="#1a1a1a" stroke="#1a1a1a" stroke-width="0.22">25</text>
<text transform="translate(251.00,47.00) scale(0.836,1)" text-anchor="middle" fill="#1a1a1a" stroke="#1a1a1a" stroke-width="0.22">FLT3</text>
<text transform="translate(222.90,60.30) scale(0.885,1)" text-anchor="end" fill="#1a1a1a" stroke="#1a1a1a" stroke-width="0.22">25</text>
<text transform="translate(251.00,60.30) scale(0.866,1)" text-anchor="middle" fill="#1a1a1a" stroke="#1a1a1a" stroke-width="0.22">NPM1</text>
<text transform="translate(222.90,73.30) scale(0.885,1)" text-anchor="end" fill="#1a1a1a" stroke="#1a1a1a" stroke-width="0.22">26</text>
<text transform="translate(251.00,73.30) scale(0.888,1)" text-anchor="middle" fill="#1a1a1a" stroke="#1a1a1a" stroke-width="0.22">DNMT3A*</text>
<text transform="translate(222.90,86.45) scale(0.885,1)" text-anchor="end" fill="#1a1a1a" stroke="#1a1a1a" stroke-width="0.22">26</text>
<text transform="translate(251.00,86.45) scale(0.828,1)" text-anchor="middle" fill="#1a1a1a" stroke="#1a1a1a" stroke-width="0.22">RUNX1</text>
<text transform="translate(222.90,99.58) scale(0.885,1)" text-anchor="end" fill="#1a1a1a" stroke="#1a1a1a" stroke-width="0.22">26</text>
<text transform="translate(251.00,99.58) scale(0.840,1)" text-anchor="middle" fill="#1a1a1a" stroke="#1a1a1a" stroke-width="0.22">PTPN11</text>
<text transform="translate(222.90,112.70) scale(0.885,1)" text-anchor="end" fill="#1a1a1a" stroke="#1a1a1a" stroke-width="0.22">26</text>
<text transform="translate(251.00,112.70) scale(0.843,1)" text-anchor="middle" fill="#1a1a1a" stroke="#1a1a1a" stroke-width="0.22">WT1</text>
<text transform="translate(222.90,125.72) scale(0.885,1)" text-anchor="end" fill="#1a1a1a" stroke="#1a1a1a" stroke-width="0.22">27</text>
<text transform="translate(251.00,125.72) scale(0.820,1)" text-anchor="middle" fill="#1a1a1a" stroke="#1a1a1a" stroke-width="0.22">ASXL1</text>
<text transform="translate(222.90,138.85) scale(0.885,1)" text-anchor="end" fill="#1a1a1a" stroke="#1a1a1a" stroke-width="0.22">27</text>
<text transform="translate(251.00,138.85) scale(0.872,1)" text-anchor="middle" fill="#1a1a1a" stroke="#1a1a1a" stroke-width="0.22">IDH2</text>
<text transform="translate(222.90,152.00) scale(0.885,1)" text-anchor="end" fill="#1a1a1a" stroke="#1a1a1a" stroke-width="0.22">27</text>
<text transform="translate(251.00,152.00) scale(0.784,1)" text-anchor="middle" fill="#1a1a1a" stroke="#1a1a1a" stroke-width="0.22">CBLB</text>
<text transform="translate(222.90,165.10) scale(0.885,1)" text-anchor="end" fill="#1a1a1a" stroke="#1a1a1a" stroke-width="0.22">27</text>
<text transform="translate(251.00,165.10) scale(0.866,1)" text-anchor="middle" fill="#1a1a1a" stroke="#1a1a1a" stroke-width="0.22">NPM1</text>
<text transform="translate(222.90,178.25) scale(0.885,1)" text-anchor="end" fill="#1a1a1a" stroke="#1a1a1a" stroke-width="0.22">28</text>
<text transform="translate(251.00,178.25) scale(0.784,1)" text-anchor="middle" fill="#1a1a1a" stroke="#1a1a1a" stroke-width="0.22">TET2</text>
<text transform="translate(222.90,191.40) scale(0.885,1)" text-anchor="end" fill="#1a1a1a" stroke="#1a1a1a" stroke-width="0.22">28</text>
<text transform="translate(251.00,191.40) scale(0.798,1)" text-anchor="middle" fill="#1a1a1a" stroke="#1a1a1a" stroke-width="0.22">CEBPA</text>
<text transform="translate(222.90,204.55) scale(0.885,1)" text-anchor="end" fill="#1a1a1a" stroke="#1a1a1a" stroke-width="0.22">28</text>
<text transform="translate(251.00,204.55) scale(0.764,1)" text-anchor="middle" fill="#1a1a1a" stroke="#1a1a1a" stroke-width="0.22">CSF3R</text>
<text transform="translate(222.90,217.75) scale(0.885,1)" text-anchor="end" fill="#1a1a1a" stroke="#1a1a1a" stroke-width="0.22">29</text>
<text transform="translate(251.00,217.75) scale(0.883,1)" text-anchor="middle" fill="#1a1a1a" stroke="#1a1a1a" stroke-width="0.22">GATA2</text>
<text transform="translate(222.90,231.00) scale(0.885,1)" text-anchor="end" fill="#1a1a1a" stroke="#1a1a1a" stroke-width="0.22">30</text>
<text transform="translate(251.00,231.00) scale(0.751,1)" text-anchor="middle" fill="#1a1a1a" stroke="#1a1a1a" stroke-width="0.22">SRSF2</text>
<text transform="translate(222.90,244.25) scale(0.885,1)" text-anchor="end" fill="#1a1a1a" stroke="#1a1a1a" stroke-width="0.22">30</text>
<text transform="translate(251.00,244.25) scale(0.780,1)" text-anchor="middle" fill="#1a1a1a" stroke="#1a1a1a" stroke-width="0.22">BCOR</text>
<text transform="translate(222.90,257.40) scale(0.885,1)" text-anchor="end" fill="#1a1a1a" stroke="#1a1a1a" stroke-width="0.22">30</text>
<text transform="translate(251.00,257.40) scale(0.784,1)" text-anchor="middle" fill="#1a1a1a" stroke="#1a1a1a" stroke-width="0.22">TET2</text>
<text transform="translate(222.90,270.55) scale(0.885,1)" text-anchor="end" fill="#1a1a1a" stroke="#1a1a1a" stroke-width="0.22">30</text>
<text transform="translate(251.00,270.55) scale(0.828,1)" text-anchor="middle" fill="#1a1a1a" stroke="#1a1a1a" stroke-width="0.22">RUNX1</text>
<text transform="translate(222.90,283.90) scale(0.885,1)" text-anchor="end" fill="#1a1a1a" stroke="#1a1a1a" stroke-width="0.22">30</text>
<text transform="translate(251.00,283.90) scale(0.844,1)" text-anchor="middle" fill="#1a1a1a" stroke="#1a1a1a" stroke-width="0.22">CDKN2A</text>
<text transform="translate(222.90,297.27) scale(0.885,1)" text-anchor="end" fill="#1a1a1a" stroke="#1a1a1a" stroke-width="0.22">30</text>
<text transform="translate(251.00,297.27) scale(0.825,1)" text-anchor="middle" fill="#1a1a1a" stroke="#1a1a1a" stroke-width="0.22">TP53</text>
<text transform="translate(222.90,310.48) scale(0.885,1)" text-anchor="end" fill="#1a1a1a" stroke="#1a1a1a" stroke-width="0.22">31</text>
<text transform="translate(251.00,310.48) scale(0.820,1)" text-anchor="middle" fill="#1a1a1a" stroke="#1a1a1a" stroke-width="0.22">ASXL1</text>
<text transform="translate(222.90,323.60) scale(0.885,1)" text-anchor="end" fill="#1a1a1a" stroke="#1a1a1a" stroke-width="0.22">31</text>
<text transform="translate(251.00,323.60) scale(0.784,1)" text-anchor="middle" fill="#1a1a1a" stroke="#1a1a1a" stroke-width="0.22">TET2</text>
<text transform="translate(222.90,337.08) scale(0.885,1)" text-anchor="end" fill="#1a1a1a" stroke="#1a1a1a" stroke-width="0.22">31</text>
<text transform="translate(251.00,337.08) scale(0.798,1)" text-anchor="middle" fill="#1a1a1a" stroke="#1a1a1a" stroke-width="0.22">CEBPA</text>
<text transform="translate(222.90,349.43) scale(0.885,1)" text-anchor="end" fill="#1a1a1a" stroke="#1a1a1a" stroke-width="0.22">31</text>
<text transform="translate(251.00,349.43) scale(0.883,1)" text-anchor="middle" fill="#1a1a1a" stroke="#1a1a1a" stroke-width="0.22">GATA2</text>
<text transform="translate(222.90,362.65) scale(0.885,1)" text-anchor="end" fill="#1a1a1a" stroke="#1a1a1a" stroke-width="0.22">31</text>
<text transform="translate(251.00,362.65) scale(0.788,1)" text-anchor="middle" fill="#1a1a1a" stroke="#1a1a1a" stroke-width="0.22">KIT</text>
<text transform="translate(222.90,375.88) scale(0.885,1)" text-anchor="end" fill="#1a1a1a" stroke="#1a1a1a" stroke-width="0.22">32</text>
<text transform="translate(251.00,375.88) scale(0.784,1)" text-anchor="middle" fill="#1a1a1a" stroke="#1a1a1a" stroke-width="0.22">TET2</text>
<text transform="translate(222.90,388.52) scale(0.885,1)" text-anchor="end" fill="#1a1a1a" stroke="#1a1a1a" stroke-width="0.22">32</text>
<text transform="translate(251.00,388.52) scale(0.798,1)" text-anchor="middle" fill="#1a1a1a" stroke="#1a1a1a" stroke-width="0.22">CEBPA</text>
<text transform="translate(222.90,400.10) scale(0.885,1)" text-anchor="end" fill="#1a1a1a" stroke="#1a1a1a" stroke-width="0.22">32</text>
<text transform="translate(251.00,400.10) scale(0.825,1)" text-anchor="middle" fill="#1a1a1a" stroke="#1a1a1a" stroke-width="0.22">TP53</text>
<text transform="translate(222.90,411.40) scale(0.885,1)" text-anchor="end" fill="#1a1a1a" stroke="#1a1a1a" stroke-width="0.22">33</text>
<text transform="translate(251.00,411.40) scale(0.751,1)" text-anchor="middle" fill="#1a1a1a" stroke="#1a1a1a" stroke-width="0.22">SRSF2</text>
<text transform="translate(222.90,423.00) scale(0.885,1)" text-anchor="end" fill="#1a1a1a" stroke="#1a1a1a" stroke-width="0.22">33</text>
<text transform="translate(251.00,423.00) scale(0.820,1)" text-anchor="middle" fill="#1a1a1a" stroke="#1a1a1a" stroke-width="0.22">ASXL1</text>
<text transform="translate(222.90,434.75) scale(0.885,1)" text-anchor="end" fill="#1a1a1a" stroke="#1a1a1a" stroke-width="0.22">33</text>
<text transform="translate(251.00,434.75) scale(0.829,1)" text-anchor="middle" fill="#1a1a1a" stroke="#1a1a1a" stroke-width="0.22">EZH2</text>
<text transform="translate(222.90,446.52) scale(0.885,1)" text-anchor="end" fill="#1a1a1a" stroke="#1a1a1a" stroke-width="0.22">33</text>
<text transform="translate(251.00,446.52) scale(0.794,1)" text-anchor="middle" fill="#1a1a1a" stroke="#1a1a1a" stroke-width="0.22">NRAS</text>
<text transform="translate(222.90,458.23) scale(0.885,1)" text-anchor="end" fill="#1a1a1a" stroke="#1a1a1a" stroke-width="0.22">33</text>
<text transform="translate(251.00,458.23) scale(0.768,1)" text-anchor="middle" fill="#1a1a1a" stroke="#1a1a1a" stroke-width="0.22">SETBP1</text>
<text transform="translate(222.90,470.00) scale(0.885,1)" text-anchor="end" fill="#1a1a1a" stroke="#1a1a1a" stroke-width="0.22">33</text>
<text transform="translate(251.00,470.00) scale(0.790,1)" text-anchor="middle" fill="#1a1a1a" stroke="#1a1a1a" stroke-width="0.22">ETV6</text>
<text transform="translate(222.90,481.85) scale(0.885,1)" text-anchor="end" fill="#1a1a1a" stroke="#1a1a1a" stroke-width="0.22">34</text>
<text transform="translate(251.00,481.85) scale(0.854,1)" text-anchor="middle" fill="#1a1a1a" stroke="#1a1a1a" stroke-width="0.22">U2AF1</text>
<text transform="translate(222.90,493.35) scale(0.885,1)" text-anchor="end" fill="#1a1a1a" stroke="#1a1a1a" stroke-width="0.22">34</text>
<text transform="translate(251.00,493.35) scale(0.828,1)" text-anchor="middle" fill="#1a1a1a" stroke="#1a1a1a" stroke-width="0.22">RUNX1</text>
<text transform="translate(392.60,33.55) scale(0.885,1)" text-anchor="end" fill="#1a1a1a" stroke="#1a1a1a" stroke-width="0.22">34</text>
<text transform="translate(417.30,33.55) scale(0.794,1)" text-anchor="middle" fill="#1a1a1a" stroke="#1a1a1a" stroke-width="0.22">NRAS</text>
<text transform="translate(392.60,47.00) scale(0.885,1)" text-anchor="end" fill="#1a1a1a" stroke="#1a1a1a" stroke-width="0.22">34</text>
<text transform="translate(417.30,47.00) scale(0.786,1)" text-anchor="middle" fill="#1a1a1a" stroke="#1a1a1a" stroke-width="0.22">CBL</text>
<text transform="translate(392.60,60.30) scale(0.885,1)" text-anchor="end" fill="#1a1a1a" stroke="#1a1a1a" stroke-width="0.22">34</text>
<text transform="translate(417.30,60.30) scale(0.768,1)" text-anchor="middle" fill="#1a1a1a" stroke="#1a1a1a" stroke-width="0.22">SETBP1</text>
<text transform="translate(392.60,73.30) scale(0.885,1)" text-anchor="end" fill="#1a1a1a" stroke="#1a1a1a" stroke-width="0.22">35</text>
<text transform="translate(417.30,73.30) scale(0.800,1)" text-anchor="middle" fill="#1a1a1a" stroke="#1a1a1a" stroke-width="0.22">SF3B1</text>
<text transform="translate(392.60,86.45) scale(0.885,1)" text-anchor="end" fill="#1a1a1a" stroke="#1a1a1a" stroke-width="0.22">36</text>
<text transform="translate(417.30,86.45) scale(0.820,1)" text-anchor="middle" fill="#1a1a1a" stroke="#1a1a1a" stroke-width="0.22">ASXL1</text>
<text transform="translate(392.60,99.58) scale(0.885,1)" text-anchor="end" fill="#1a1a1a" stroke="#1a1a1a" stroke-width="0.22">36</text>
<text transform="translate(417.30,99.58) scale(0.875,1)" text-anchor="middle" fill="#1a1a1a" stroke="#1a1a1a" stroke-width="0.22">DNMT3A</text>
<text transform="translate(392.60,112.70) scale(0.885,1)" text-anchor="end" fill="#1a1a1a" stroke="#1a1a1a" stroke-width="0.22">36</text>
<text transform="translate(417.30,112.70) scale(0.872,1)" text-anchor="middle" fill="#1a1a1a" stroke="#1a1a1a" stroke-width="0.22">IDH1</text>
<text transform="translate(392.60,125.72) scale(0.885,1)" text-anchor="end" fill="#1a1a1a" stroke="#1a1a1a" stroke-width="0.22">36</text>
<text transform="translate(417.30,125.72) scale(0.784,1)" text-anchor="middle" fill="#1a1a1a" stroke="#1a1a1a" stroke-width="0.22">TET2</text>
<text transform="translate(392.60,138.85) scale(0.885,1)" text-anchor="end" fill="#1a1a1a" stroke="#1a1a1a" stroke-width="0.22">36</text>
<text transform="translate(417.30,138.85) scale(0.828,1)" text-anchor="middle" fill="#1a1a1a" stroke="#1a1a1a" stroke-width="0.22">RUNX1</text>
<text transform="translate(392.60,152.00) scale(0.885,1)" text-anchor="end" fill="#1a1a1a" stroke="#1a1a1a" stroke-width="0.22">37</text>
<text transform="translate(417.30,152.00) scale(0.800,1)" text-anchor="middle" fill="#1a1a1a" stroke="#1a1a1a" stroke-width="0.22">SF3B1</text>
<text transform="translate(392.60,165.10) scale(0.885,1)" text-anchor="end" fill="#1a1a1a" stroke="#1a1a1a" stroke-width="0.22">37</text>
<text transform="translate(417.30,165.10) scale(0.828,1)" text-anchor="middle" fill="#1a1a1a" stroke="#1a1a1a" stroke-width="0.22">RUNX1</text>
<text transform="translate(392.60,178.25) scale(0.885,1)" text-anchor="end" fill="#1a1a1a" stroke="#1a1a1a" stroke-width="0.22">38</text>
<text transform="translate(417.30,178.25) scale(0.854,1)" text-anchor="middle" fill="#1a1a1a" stroke="#1a1a1a" stroke-width="0.22">U2AF1</text>
<text transform="translate(392.60,191.40) scale(0.885,1)" text-anchor="end" fill="#1a1a1a" stroke="#1a1a1a" stroke-width="0.22">38</text>
<text transform="translate(417.30,191.40) scale(0.828,1)" text-anchor="middle" fill="#1a1a1a" stroke="#1a1a1a" stroke-width="0.22">RUNX1</text>
<text transform="translate(392.60,204.55) scale(0.885,1)" text-anchor="end" fill="#1a1a1a" stroke="#1a1a1a" stroke-width="0.22">38</text>
<text transform="translate(417.30,204.55) scale(0.818,1)" text-anchor="middle" fill="#1a1a1a" stroke="#1a1a1a" stroke-width="0.22">JAK2</text>
<text transform="translate(392.60,217.75) scale(0.885,1)" text-anchor="end" fill="#1a1a1a" stroke="#1a1a1a" stroke-width="0.22">38</text>
<text transform="translate(417.30,217.75) scale(0.825,1)" text-anchor="middle" fill="#1a1a1a" stroke="#1a1a1a" stroke-width="0.22">TP53</text>
<text transform="translate(392.60,231.00) scale(0.885,1)" text-anchor="end" fill="#1a1a1a" stroke="#1a1a1a" stroke-width="0.22">39</text>
<text transform="translate(417.30,231.00) scale(0.825,1)" text-anchor="middle" fill="#1a1a1a" stroke="#1a1a1a" stroke-width="0.22">TP53</text>
<text transform="translate(392.60,244.25) scale(0.885,1)" text-anchor="end" fill="#1a1a1a" stroke="#1a1a1a" stroke-width="0.22">40</text>
<text transform="translate(417.30,244.25) scale(0.854,1)" text-anchor="middle" fill="#1a1a1a" stroke="#1a1a1a" stroke-width="0.22">U2AF1</text>
<text transform="translate(392.60,257.40) scale(0.885,1)" text-anchor="end" fill="#1a1a1a" stroke="#1a1a1a" stroke-width="0.22">40</text>
<text transform="translate(417.30,257.40) scale(0.794,1)" text-anchor="middle" fill="#1a1a1a" stroke="#1a1a1a" stroke-width="0.22">NRAS</text>
<text transform="translate(392.60,270.55) scale(0.885,1)" text-anchor="end" fill="#1a1a1a" stroke="#1a1a1a" stroke-width="0.22">41</text>
<text transform="translate(417.30,270.55) scale(0.784,1)" text-anchor="middle" fill="#1a1a1a" stroke="#1a1a1a" stroke-width="0.22">TET2</text>
<text transform="translate(392.60,283.90) scale(0.885,1)" text-anchor="end" fill="#1a1a1a" stroke="#1a1a1a" stroke-width="0.22">42</text>
<text transform="translate(417.30,283.90) scale(0.794,1)" text-anchor="middle" fill="#1a1a1a" stroke="#1a1a1a" stroke-width="0.22">NRAS</text>
<text transform="translate(392.60,297.27) scale(0.885,1)" text-anchor="end" fill="#1a1a1a" stroke="#1a1a1a" stroke-width="0.22">42</text>
<text transform="translate(417.30,297.27) scale(0.836,1)" text-anchor="middle" fill="#1a1a1a" stroke="#1a1a1a" stroke-width="0.22">FLT3</text>
<text transform="translate(392.60,310.48) scale(0.885,1)" text-anchor="end" fill="#1a1a1a" stroke="#1a1a1a" stroke-width="0.22">42</text>
<text transform="translate(417.30,310.48) scale(0.843,1)" text-anchor="middle" fill="#1a1a1a" stroke="#1a1a1a" stroke-width="0.22">WT1</text>
<text transform="translate(392.60,323.60) scale(0.885,1)" text-anchor="end" fill="#1a1a1a" stroke="#1a1a1a" stroke-width="0.22">43</text>
<text transform="translate(417.30,323.60) scale(0.825,1)" text-anchor="middle" fill="#1a1a1a" stroke="#1a1a1a" stroke-width="0.22">TP53</text>
<text transform="translate(392.60,337.08) scale(0.885,1)" text-anchor="end" fill="#1a1a1a" stroke="#1a1a1a" stroke-width="0.22">44</text>
<text transform="translate(417.30,337.08) scale(0.825,1)" text-anchor="middle" fill="#1a1a1a" stroke="#1a1a1a" stroke-width="0.22">TP53</text>
<text transform="translate(22.90,181.88) rotate(-90) scale(0.847,1)" text-anchor="middle" fill="#1a1a1a" stroke="#1a1a1a" stroke-width="0.22">MDS</text>
<text transform="translate(22.90,417.88) rotate(-90) scale(0.906,1)" text-anchor="middle" fill="#1a1a1a" stroke="#1a1a1a" stroke-width="0.22">de novo AML</text>
<text transform="translate(192.55,116.22) rotate(-90) scale(0.860,1)" text-anchor="middle" fill="#1a1a1a" stroke="#1a1a1a" stroke-width="0.22">suspected AML-MRC (AML-NOS)</text>
<text transform="translate(192.55,352.23) rotate(-90) scale(0.846,1)" text-anchor="middle" fill="#1a1a1a" stroke="#1a1a1a" stroke-width="0.22">AML-MRC</text>
<text transform="translate(362.50,181.88) rotate(-90) scale(0.846,1)" text-anchor="middle" fill="#1a1a1a" stroke="#1a1a1a" stroke-width="0.22">AML-MRC</text>
<text transform="translate(362.10,392.90) scale(0.913,1)" text-anchor="start" fill="#1a1a1a" stroke="#1a1a1a" stroke-width="0.22">Mutation status:</text>
<rect x="361.30" y="405.00" width="28.90" height="9.60" fill="#e8ba20"/>
<text transform="translate(394.00,412.70) scale(0.868,1)" text-anchor="start" fill="#1a1a1a" stroke="#1a1a1a" stroke-width="0.22">Non-overlapping</text>
<rect x="361.30" y="431.30" width="28.90" height="9.70" fill="#9e0027"/>
<text transform="translate(394.00,439.00) scale(0.858,1)" text-anchor="start" fill="#1a1a1a" stroke="#1a1a1a" stroke-width="0.22">Overlapping</text>
<line x1="359.8" y1="454.2" x2="389" y2="454.2" stroke="#111" stroke-width="1.1"/>
<path d="M394.2 454.2 L386.4 450.9 L388.4 454.2 L386.4 457.5 Z" fill="#111"/>
<text transform="translate(397.70,457.20) scale(0.760,1)" text-anchor="start" fill="#1a1a1a" stroke="#1a1a1a" stroke-width="0.22">VAF (%)</text>
<text font-size="7.6" transform="translate(363.00,465.90) scale(0.922,1)" text-anchor="middle" fill="#1a1a1a" stroke="#1a1a1a" stroke-width="0.22">0</text>
<text font-size="7.6" transform="translate(389.10,465.90) scale(0.922,1)" text-anchor="middle" fill="#1a1a1a" stroke="#1a1a1a" stroke-width="0.22">50</text>
<rect x="0" y="0" width="520" height="1.05" fill="#000"/>
<rect x="0.25" y="0" width="1.05" height="504" fill="#000"/>
<rect x="518.85" y="0" width="1.15" height="504" fill="#000"/>
<rect x="0" y="502.3" width="520" height="1.7" fill="#000"/>
</svg></body></html>
